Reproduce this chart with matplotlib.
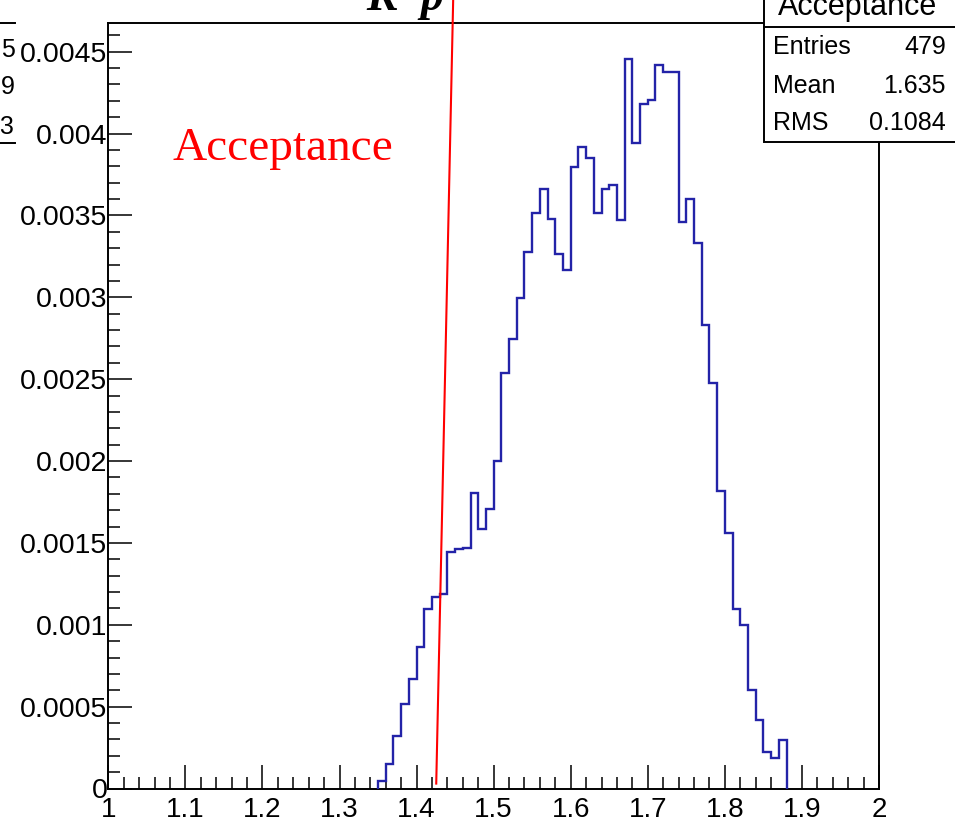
import numpy as np
import matplotlib
matplotlib.use("Agg")
import matplotlib.pyplot as plt
from matplotlib.patches import Rectangle
from matplotlib.lines import Line2D
from matplotlib.ticker import MultipleLocator, FixedLocator, FixedFormatter

# ---------------- data ----------------
bin_low_edges = [1.35, 1.36, 1.37, 1.38, 1.39, 1.40, 1.41, 1.42, 1.43, 1.44,
                 1.45, 1.46, 1.47, 1.48, 1.49, 1.50, 1.51, 1.52, 1.53, 1.54,
                 1.55, 1.56, 1.57, 1.58, 1.59, 1.60, 1.61, 1.62, 1.63, 1.64,
                 1.65, 1.66, 1.67, 1.68, 1.69, 1.70, 1.71, 1.72, 1.73, 1.74,
                 1.75, 1.76, 1.77, 1.78, 1.79, 1.80, 1.81, 1.82, 1.83, 1.84,
                 1.85, 1.86, 1.87]
bin_width = 0.01
bin_values = [4.6e-5, 1.50e-4, 3.21e-4, 5.16e-4, 6.69e-4, 8.64e-4, 1.096e-3, 1.172e-3, 1.186e-3, 1.443e-3,
              1.461e-3, 1.471e-3, 1.803e-3, 1.583e-3, 1.705e-3, 2.002e-3, 2.536e-3, 2.744e-3, 2.994e-3, 3.279e-3,
              3.517e-3, 3.660e-3, 3.477e-3, 3.265e-3, 3.167e-3, 3.798e-3, 3.920e-3, 3.849e-3, 3.513e-3, 3.660e-3,
              3.686e-3, 3.472e-3, 4.454e-3, 3.945e-3, 4.181e-3, 4.205e-3, 4.419e-3, 4.378e-3, 4.378e-3, 3.462e-3,
              3.599e-3, 3.330e-3, 2.831e-3, 2.475e-3, 1.817e-3, 1.559e-3, 1.096e-3, 9.99e-4, 6.02e-4, 4.18e-4,
              2.21e-4, 1.84e-4, 2.96e-4]

cut_line_x = [1.4255, 1.4475]
cut_line_y = [0.00003, 0.00482]

x_ticks = [1.0, 1.1, 1.2, 1.3, 1.4, 1.5, 1.6, 1.7, 1.8, 1.9, 2.0]
x_tick_labels = ["1", "1.1", "1.2", "1.3", "1.4", "1.5", "1.6", "1.7", "1.8", "1.9", "2"]
y_ticks = [0, 0.0005, 0.001, 0.0015, 0.002, 0.0025, 0.003, 0.0035, 0.004, 0.0045]
y_tick_labels = ["0", "0.0005", "0.001", "0.0015", "0.002", "0.0025", "0.003", "0.0035", "0.004", "0.0045"]

title_text = "K\u207bp"
stats_title = "Acceptance"
stats_names = ["Entries", "Mean", "RMS"]
stats_values = ["479", "1.635", "0.1084"]
side_values = ["5", "9", "23"]
label_text = "Acceptance"

# ---------------- figure ----------------
W, H = 955, 825
fig = plt.figure(figsize=(W / 100, H / 100), dpi=100)
fig.patch.set_facecolor("white")

def fx(px):
    return px / W

def fy(py):
    return 1 - py / H

ax_l, ax_r, ax_t, ax_b = 108.3, 879.0, 22.7, 788.5
ax = fig.add_axes([fx(ax_l), fy(ax_b), fx(ax_r - ax_l), (ax_b - ax_t) / H])
ax.set_xlim(1, 2)
ax.set_ylim(0, 0.004677)

edges = list(bin_low_edges) + [bin_low_edges[-1] + bin_width]
ax.stairs(bin_values, edges, baseline=0, color="#2323a8", linewidth=1.7, zorder=3)

ax.add_line(Line2D(cut_line_x, cut_line_y, color="red", linewidth=1.5, clip_on=False, zorder=4))

sans = ["Liberation Sans", "DejaVu Sans"]
ax.xaxis.set_major_locator(FixedLocator(x_ticks))
ax.xaxis.set_major_formatter(FixedFormatter(x_tick_labels))
ax.xaxis.set_minor_locator(MultipleLocator(0.02))
ax.yaxis.set_major_locator(FixedLocator(y_ticks))
ax.yaxis.set_major_formatter(FixedFormatter(y_tick_labels))
ax.yaxis.set_minor_locator(MultipleLocator(0.0001))

ax.tick_params(which="both", direction="in", top=False, right=False, width=1.1, color="black")
ax.tick_params(which="major", length=17)
ax.tick_params(which="minor", length=8.5)
ax.tick_params(axis="x", which="major", pad=6, labelsize=20)
ax.tick_params(axis="y", which="major", pad=0.5, labelsize=20.5)
for lab in ax.get_xticklabels() + ax.get_yticklabels():
    lab.set_family(sans)
for sp in ax.spines.values():
    sp.set_linewidth(1.4)

# red label
fig.text(fx(172), fy(160), label_text, color="red", fontsize=34,
         family=["Liberation Serif", "DejaVu Serif"], va="baseline", ha="left")

# cut title at top
fig.text(fx(405), fy(10), title_text, fontsize=33, fontweight="bold", fontstyle="italic",
         family=["Liberation Serif", "DejaVu Serif"], va="baseline", ha="center")

# stats box (partially outside the figure)
box_l, box_t, box_b = 764, -20, 142
fig.patches.append(Rectangle((fx(box_l), fy(box_b)), fx(W + 20 - box_l), (box_b - box_t) / H,
                             transform=fig.transFigure, facecolor="white", edgecolor="black",
                             linewidth=1.4, zorder=5))
fig.lines.append(Line2D([fx(box_l), fx(W + 5)], [fy(26.7), fy(26.7)], transform=fig.transFigure,
                        color="black", linewidth=1.4, zorder=6))
fig.text(fx(858), fy(15), stats_title, fontsize=22, family=sans, ha="center", va="baseline", zorder=7)
row_y = [47, 86, 123]
for name, val, yy in zip(stats_names, stats_values, row_y):
    fig.text(fx(773), fy(yy), name, fontsize=18, family=sans, ha="left", va="center", zorder=7)
    fig.text(fx(946), fy(yy), val, fontsize=18, family=sans, ha="right", va="center", zorder=7)

# fragment of the neighbouring pad's stats box at the left edge
for yy in (23, 143):
    fig.lines.append(Line2D([0, fx(15)], [fy(yy), fy(yy)], transform=fig.transFigure,
                            color="black", linewidth=1.4))
for txt, yy in zip(side_values, [50, 87, 127]):
    fig.text(fx(15), fy(yy), txt, fontsize=18, family=sans, ha="right", va="center")

fig.savefig("out.png", dpi=100)
